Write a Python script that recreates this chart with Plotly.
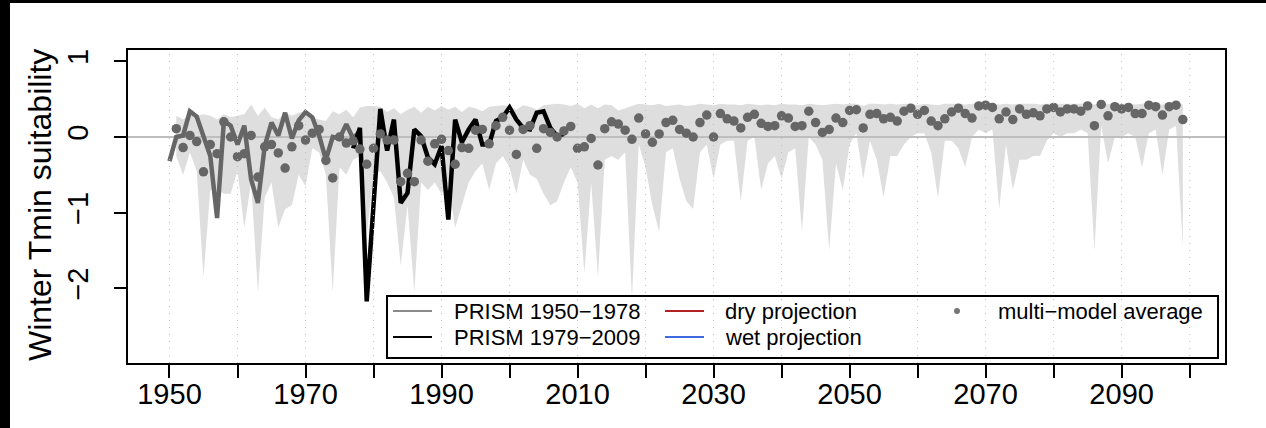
import plotly.graph_objects as go

# ---------------- data ----------------
prism1_years = list(range(1950, 1979))
prism1_vals = [-0.32, 0.00, 0.02, 0.34, 0.27, 0.00, -0.25, -1.07, 0.21, 0.15,
               -0.10, 0.15, -0.56, -0.87, -0.12, 0.19, 0.02, 0.32, -0.02, 0.22,
               0.33, 0.26, 0.02, -0.30, 0.00, -0.02, 0.17, -0.02, 0.08]

prism2_years = list(range(1977, 2009))
prism2_vals = [-0.15, 0.12, -2.17, -0.90, 0.37, -0.18, 0.23, -0.87, -0.74, 0.10,
               0.01, -0.27, -0.36, -0.12, -1.09, 0.23, -0.07, 0.10, 0.23, -0.10,
               -0.10, 0.21, 0.26, 0.39, 0.23, 0.12, 0.10, 0.32, 0.34, 0.12,
               0.01, 0.04]

model_years = list(range(1951, 2100))
model_avg = [0.11, -0.14, 0.02, -0.06, -0.46, -0.10, -0.22, 0.20, 0.00, -0.26,   # 1951-1960
             -0.22, 0.02, -0.53, -0.13, -0.10, -0.21, -0.41, -0.13, 0.15, -0.04, # 1961-1970
             0.05, 0.10, -0.31, -0.54, 0.00, -0.08, -0.05, -0.16, -0.36, -0.15,  # 1971-1980
             0.04, -0.04, -0.04, -0.59, -0.48, -0.59, -0.04, -0.32, -0.09, -0.03,# 1981-1990
             -0.18, -0.36, -0.14, -0.15, 0.09, 0.10, -0.09, 0.15, 0.26, 0.09,    # 1991-2000
             -0.23, 0.10, 0.15, -0.15, 0.11, 0.06, 0.00, 0.08, 0.14, -0.15,     # 2001-2010
             -0.13, -0.02, -0.37, 0.11, 0.20, 0.17, 0.09, -0.03, 0.25, 0.04,    # 2011-2020
             -0.07, 0.04, 0.19, 0.22, 0.10, 0.05, 0.00, 0.19, 0.29, 0.00,       # 2021-2030
             0.31, 0.24, 0.21, 0.12, 0.26, 0.30, 0.18, 0.14, 0.15, 0.28,        # 2031-2040
             0.25, 0.14, 0.15, 0.34, 0.19, 0.06, 0.10, 0.25, 0.19, 0.35,        # 2041-2050
             0.36, 0.12, 0.30, 0.31, 0.24, 0.26, 0.21, 0.34, 0.38, 0.30,        # 2051-2060
             0.35, 0.21, 0.15, 0.24, 0.33, 0.38, 0.31, 0.25, 0.41, 0.42,        # 2061-2070
             0.39, 0.24, 0.33, 0.23, 0.37, 0.30, 0.32, 0.28, 0.37, 0.39,        # 2071-2080
             0.33, 0.37, 0.37, 0.34, 0.41, 0.15, 0.43, 0.28, 0.40, 0.37,        # 2081-2090
             0.39, 0.31, 0.31, 0.42, 0.40, 0.29, 0.40, 0.42, 0.23]              # 2091-2099

band_upper = [0.28, 0.23, 0.30, 0.28, 0.30, 0.28, 0.23, 0.30, 0.26, 0.28,       # 1951-1960
              0.30, 0.43, 0.28, 0.39, 0.26, 0.23, 0.32, 0.28, 0.32, 0.34,       # 1961-1970
              0.26, 0.23, 0.21, 0.34, 0.30, 0.36, 0.26, 0.39, 0.41, 0.41,       # 1971-1980
              0.40, 0.33, 0.38, 0.30, 0.36, 0.40, 0.32, 0.40, 0.35, 0.41,       # 1981-1990
              0.36, 0.40, 0.33, 0.40, 0.38, 0.34, 0.40, 0.41, 0.42, 0.41,       # 1991-2000
              0.36, 0.42, 0.40, 0.36, 0.42, 0.43, 0.44, 0.43, 0.41, 0.44,       # 2001-2010
              0.38, 0.43, 0.38, 0.43, 0.42, 0.35, 0.38, 0.42, 0.44, 0.43,       # 2011-2020
              0.42, 0.44, 0.41, 0.42, 0.43, 0.41, 0.42, 0.44, 0.43, 0.42,       # 2021-2030
              0.44, 0.43, 0.43, 0.42, 0.44, 0.43, 0.42, 0.43, 0.42, 0.44,       # 2031-2040
              0.43, 0.43, 0.42, 0.44, 0.43, 0.42, 0.43, 0.44, 0.43, 0.44,       # 2041-2050
              0.44, 0.41, 0.44, 0.44, 0.43, 0.44, 0.43, 0.44, 0.44, 0.42,       # 2051-2060
              0.44, 0.43, 0.42, 0.44, 0.44, 0.44, 0.43, 0.44, 0.45, 0.45,       # 2061-2070
              0.44, 0.43, 0.44, 0.43, 0.44, 0.44, 0.44, 0.43, 0.44, 0.44,       # 2071-2080
              0.44, 0.44, 0.44, 0.44, 0.45, 0.43, 0.45, 0.44, 0.44, 0.44,       # 2081-2090
              0.44, 0.43, 0.44, 0.45, 0.44, 0.43, 0.44, 0.45, 0.43]             # 2091-2099

band_lower = [-0.25, -0.50, -0.20, -0.45, -1.85, -0.70, -0.70, -0.75, -0.75, -0.45,  # 1951-1960
              -1.20, -0.60, -2.05, -0.80, -0.60, -1.20, -0.95, -0.90, -0.50, -0.65,  # 1961-1970
              -0.15, -0.20, -0.50, -2.05, -0.40, -0.50, -0.30, -0.25, -1.30, -0.50,  # 1971-1980
              -0.45, -0.60, -0.80, -1.70, -0.90, -2.05, -0.60, -0.70, -0.60, -0.75,  # 1981-1990
              -0.60, -1.20, -0.90, -0.60, -0.45, -0.35, -0.70, -0.35, -0.25, -0.40,  # 1991-2000
              -0.75, -0.30, -0.50, -0.55, -0.75, -0.90, -0.85, -0.60, -0.40, -0.60,  # 2001-2010
              -1.80, -0.60, -1.85, -0.30, -0.25, -0.30, -0.20, -2.15, -0.10, -0.40,  # 2011-2020
              -0.90, -1.25, -0.20, -0.15, -0.55, -0.85, -0.95, -0.20, -0.10, -0.55,  # 2021-2030
              -0.10, -0.05, -0.05, -0.85, -0.05, 0.00, -0.70, -0.35, -0.25, -0.55,   # 2031-2040
              -0.20, -0.15, -1.25, 0.00, -0.10, -0.30, -1.50, -0.35, -0.70, -0.10,   # 2041-2050
              0.05, -0.55, -0.05, -0.30, -0.80, -0.25, -0.25, -0.10, 0.00, 0.05,     # 2051-2060
              0.05, -0.20, -0.80, -0.05, -0.05, -0.15, -0.40, 0.00, 0.10, 0.05,      # 2061-2070
              0.10, -0.95, -0.10, -0.70, -0.30, -0.30, -0.25, -0.25, -0.05, 0.05,    # 2071-2080
              0.00, 0.05, 0.05, 0.10, 0.05, -1.50, 0.15, -0.35, 0.00, 0.00,          # 2081-2090
              0.05, 0.00, -0.40, 0.05, 0.10, -0.50, 0.10, 0.15, -1.45]               # 2091-2099

x_tick_vals = [1950, 1960, 1970, 1980, 1990, 2000, 2010, 2020, 2030, 2040, 2050,
               2060, 2070, 2080, 2090, 2100]
x_tick_text = ["1950", "", "1970", "", "1990", "", "2010", "", "2030", "", "2050",
               "", "2070", "", "2090", ""]
y_tick_vals = [1, 0, -1, -2]

legend_labels = ["PRISM 1950\u22121978", "PRISM 1979\u22122009", "dry projection",
                 "wet projection", "multi\u2212model average"]

# ---------------- layout geometry (pixels) ----------------
W, H = 1266, 428
PL, PR, PT, PB = 128, 1225, 50, 363


def px(xp):
    return (xp - PL) / (PR - PL)


def py(yp):
    return (PB - yp) / (PB - PT)


FONT = "Liberation Sans, Arial, Helvetica, sans-serif"
DARK = "#666666"
BAND = "#DEDEDE"

fig = go.Figure()

# model range band
fig.add_trace(go.Scatter(
    x=model_years + model_years[::-1],
    y=band_upper + band_lower[::-1],
    fill="toself", fillcolor=BAND, line=dict(width=0),
    mode="lines", hoverinfo="skip", showlegend=False))

# zero line
fig.add_trace(go.Scatter(x=[1943.9, 2105.2], y=[0, 0], mode="lines",
                         line=dict(color="#BEBEBE", width=2),
                         hoverinfo="skip", showlegend=False))

# PRISM lines
fig.add_trace(go.Scatter(x=prism1_years, y=prism1_vals, mode="lines",
                         line=dict(color=DARK, width=4.5), showlegend=False))
fig.add_trace(go.Scatter(x=prism2_years, y=prism2_vals, mode="lines",
                         line=dict(color="black", width=4.5), showlegend=False))

# multi-model average points
fig.add_trace(go.Scatter(x=model_years, y=model_avg, mode="markers",
                         marker=dict(color=DARK, size=9.5, line=dict(width=0)),
                         showlegend=False))

shapes = []
# black frame of screenshot (left + top)
shapes.append(dict(type="rect", xref="paper", yref="paper",
                   x0=px(-5), x1=px(10), y0=py(H + 5), y1=py(-5),
                   fillcolor="black", line=dict(width=0), layer="above"))
shapes.append(dict(type="rect", xref="paper", yref="paper",
                   x0=px(-5), x1=px(W + 5), y0=py(3), y1=py(-5),
                   fillcolor="black", line=dict(width=0), layer="above"))

# legend box
shapes.append(dict(type="rect", xref="paper", yref="paper",
                   x0=px(387), x1=px(1218), y0=py(358), y1=py(296),
                   fillcolor="white", line=dict(color="black", width=2), layer="above"))

# dotted vertical grid lines (drawn last, over everything like R's grid())
for xv in x_tick_vals:
    shapes.append(dict(type="line", xref="x", yref="paper", x0=xv, x1=xv, y0=0, y1=1,
                       line=dict(color="#BDBDBD", width=1, dash="1px,6px"), layer="above"))

# legend samples
leg_rows = [311, 337]
shapes.append(dict(type="line", xref="paper", yref="paper", x0=px(393), x1=px(432),
                   y0=py(leg_rows[0]), y1=py(leg_rows[0]),
                   line=dict(color="#8A8A8A", width=2), layer="above"))
shapes.append(dict(type="line", xref="paper", yref="paper", x0=px(393), x1=px(432),
                   y0=py(leg_rows[1]), y1=py(leg_rows[1]),
                   line=dict(color="black", width=2), layer="above"))
shapes.append(dict(type="line", xref="paper", yref="paper", x0=px(665), x1=px(704),
                   y0=py(leg_rows[0]), y1=py(leg_rows[0]),
                   line=dict(color="#B22222", width=2), layer="above"))
shapes.append(dict(type="line", xref="paper", yref="paper", x0=px(665), x1=px(704),
                   y0=py(leg_rows[1]), y1=py(leg_rows[1]),
                   line=dict(color="#4169E1", width=2), layer="above"))
shapes.append(dict(type="circle", xref="paper", yref="paper",
                   x0=px(954), x1=px(960), y0=py(314), y1=py(308),
                   fillcolor="#777777", line=dict(width=0), layer="above"))

annotations = []
leg_pos = [(452, leg_rows[0]), (452, leg_rows[1]), (723, leg_rows[0]),
           (723, leg_rows[1]), (996, leg_rows[0])]
for (lx, ly), lab in zip(leg_pos, legend_labels):
    annotations.append(dict(xref="paper", yref="paper", x=px(lx), y=py(ly),
                            text=lab, showarrow=False, xanchor="left", yanchor="middle",
                            font=dict(family=FONT, size=22, color="black")))

# y axis title
annotations.append(dict(xref="paper", yref="paper", x=px(40), y=py(205),
                        text="Winter Tmin suitability", textangle=-90, showarrow=False,
                        xanchor="center", yanchor="middle",
                        font=dict(family=FONT, size=32, color="black")))

fig.update_layout(
    width=W, height=H,
    margin=dict(l=PL, r=W - PR, t=PT, b=H - PB, pad=0, autoexpand=False),
    paper_bgcolor="white", plot_bgcolor="white",
    shapes=shapes, annotations=annotations,
    showlegend=False,
    xaxis=dict(range=[1943.9, 2105.2], showgrid=False, zeroline=False, automargin=False,
               tickmode="array", tickvals=x_tick_vals, ticktext=x_tick_text,
               ticks="outside", ticklen=13, tickwidth=1.5, tickcolor="black",
               showline=True, linecolor="black", linewidth=2, mirror=True,
               tickfont=dict(family=FONT, size=29, color="black"),
               ticklabelstandoff=-9),
    yaxis=dict(range=[-2.985, 1.149], showgrid=False, zeroline=False, automargin=False,
               tickmode="array", tickvals=y_tick_vals,
               ticks="outside", ticklen=12, tickwidth=1.5, tickcolor="black",
               showline=True, linecolor="black", linewidth=2, mirror=True,
               tickangle=-90,
               tickfont=dict(family=FONT, size=29, color="black"),
               ticklabelstandoff=14),
)

fig.write_html("out.html")
